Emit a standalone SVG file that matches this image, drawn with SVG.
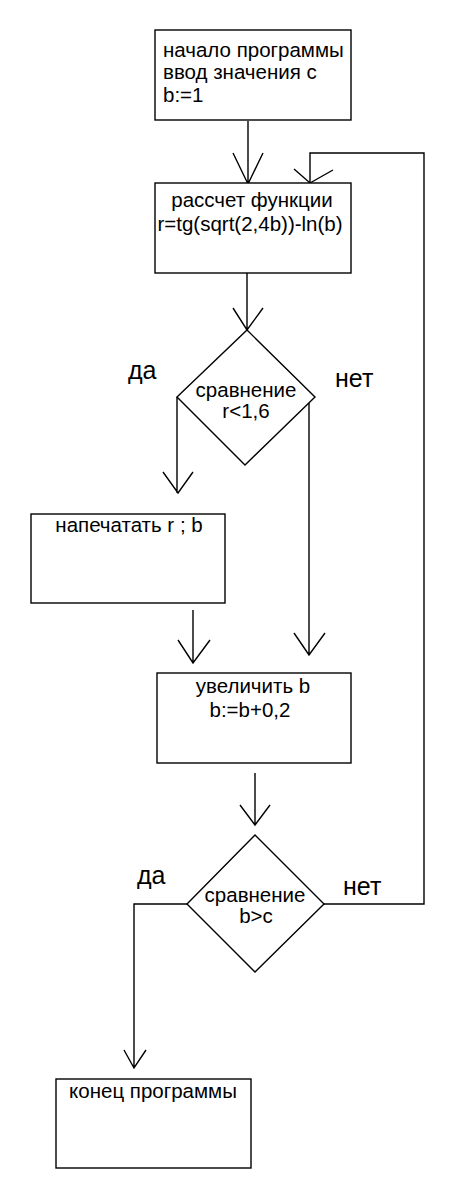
<svg xmlns="http://www.w3.org/2000/svg" width="457" height="1200" viewBox="0 0 457 1200">
<style>
.s{fill:none;stroke:#000;stroke-width:1.4}
.b{fill:#fff;stroke:#000;stroke-width:1.4}
text{font-family:"Liberation Sans",Arial,sans-serif;font-size:20.5px;fill:#000}
.c{text-anchor:middle}
.l{font-size:25px}
</style>
<rect width="457" height="1200" fill="#fff"/>
<g id="connectors">
<path class="s" d="M248 121V184M233 153L248 184L263 153"/>
<path class="s" d="M324 904H424V153H310V183M294 169L310 183L333 170"/>
<path class="s" d="M247 273V330M233 308L247 330L263 308"/>
<path class="s" d="M177 397V493M163 472L178 493L193 472"/>
<path class="s" d="M309 402V655M294 633L309 655L325 633"/>
<path class="s" d="M193 610V663M178 640L193 663L210 640"/>
<path class="s" d="M255 773V825M240 805L255 825L270 805"/>
<path class="s" d="M187 904H134V1068M124 1050L134 1068L146 1050"/>
</g>
<g id="start">
<rect class="b" x="155" y="30" width="196" height="90"/>
<text x="163" y="57">начало программы</text>
<text x="163" y="79">ввод значения с</text>
<text x="163" y="102">b:=1</text>
</g>
<g id="calc">
<rect class="b" x="155" y="183" width="196" height="90"/>
<text class="c" x="252" y="207">рассчет функции</text>
<text class="c" x="250" y="231">r=tg(sqrt(2,4b))-ln(b)</text>
</g>
<g id="cond1">
<polygon class="b" points="247,330 315,397 245,465 177,397"/>
<text class="c" x="246" y="397">сравнение</text>
<text class="c" x="246" y="418">r&lt;1,6</text>
<text class="l" x="128" y="379">да</text>
<text class="l" x="335" y="387">нет</text>
</g>
<g id="print">
<rect class="b" x="31" y="514" width="194" height="89"/>
<text class="c" x="129" y="532">напечатать r ; b</text>
</g>
<g id="inc">
<rect class="b" x="157" y="673" width="194" height="90"/>
<text class="c" x="253" y="693">увеличить b</text>
<text class="c" x="250" y="717">b:=b+0,2</text>
</g>
<g id="cond2">
<polygon class="b" points="255,835 324,904 255,972 187,904"/>
<text class="c" x="255" y="902">сравнение</text>
<text class="c" x="256" y="923">b&gt;c</text>
<text class="l" x="137" y="884">да</text>
<text class="l" x="343" y="895">нет</text>
</g>
<g id="end">
<rect class="b" x="56" y="1079" width="195" height="89"/>
<text class="c" x="153" y="1098">конец программы</text>
</g>
</svg>
